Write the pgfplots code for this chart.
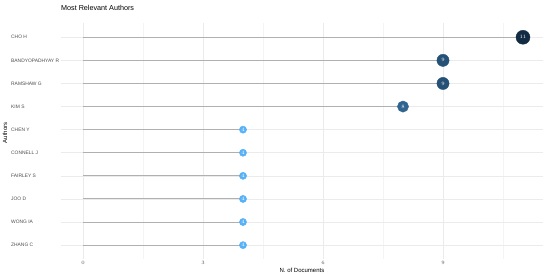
\documentclass[border=0pt]{standalone}
\usepackage{pgfplots}
\pgfplotsset{compat=1.18}
\usepackage{fontspec}
\setmainfont{Liberation Sans}
\definecolor{gridmaj}{HTML}{EBEBEB}
\definecolor{gridmin}{HTML}{F4F4F4}
\definecolor{seg}{HTML}{B0B0B0}
\definecolor{tick}{HTML}{4D4D4D}
\definecolor{c4}{HTML}{56B1F7}
\definecolor{c8}{HTML}{306490}
\definecolor{c9}{HTML}{265176}
\definecolor{c11}{HTML}{132B43}

\begin{document}
\begin{tikzpicture}[x=1pt,y=1pt]
\begin{axis}[
    at={(61pt,16pt)}, anchor=south west,
    scale only axis,
    width=482pt, height=235.6pt,
    xmin=-0.55, xmax=11.5,
    ymin=0.4, ymax=10.6,
    xtick={0,3,6,9},
    minor xtick={1.5,4.5,7.5,10.5},
    ytick={1,...,10},
    yticklabels={ZHANG C, WONG IA, JOO D, FAIRLEY S, CONNELL J, CHEN Y, KIM S, RAMSHAW G, BANDYOPADHYAY R, CHO H},
    axis line style={draw=none},
    major tick length=0pt, minor tick length=0pt,
    xmajorgrids, xminorgrids, ymajorgrids,
    major grid style={gridmaj, line width=0.5pt},
    minor grid style={gridmin, line width=0.4pt},
    ticklabel style={font=\fontsize{4.9}{5}\selectfont, text=tick, inner sep=0pt},
    xticklabel style={anchor=center, yshift=-4pt},
    yticklabel style={anchor=west, xshift=-50pt},
    xlabel={N. of Documents},
    ylabel={Authors},
    label style={font=\fontsize{6}{7}\selectfont},
    xlabel style={at={(axis description cs:0.5,0)}, anchor=center, yshift=-11.7pt},
    ylabel style={at={(axis description cs:-0.1162,0.535)}, anchor=center},
    clip=false,
    nodes near coords={\pgfmathprintnumber{\pgfplotspointmeta}},
    point meta=x,
    every node near coord/.append style={font=\fontsize{3.6}{4}\selectfont, text=white, anchor=center, inner sep=0pt},
]
% segments from zero
\addplot[xcomb, seg, line width=1pt, mark=none, nodes near coords={}] coordinates {
  (11,10) (9,9) (9,8) (8,7) (4,6) (4,5) (4,4) (4,3) (4,2) (4,1)};
% dots
\addplot[only marks, mark=*, mark size=3.6pt, mark options={fill=c4, draw=c4}] coordinates {
  (4,6) (4,5) (4,4) (4,3) (4,2) (4,1)};
\addplot[only marks, mark=*, mark size=5.6pt, mark options={fill=c8, draw=c8}] coordinates {(8,7)};
\addplot[only marks, mark=*, mark size=6.1pt, mark options={fill=c9, draw=c9}] coordinates {(9,9) (9,8)};
\addplot[only marks, mark=*, mark size=7pt, mark options={fill=c11, draw=c11}] coordinates {(11,10)};
\end{axis}
\node[anchor=west, inner sep=0pt, font=\fontsize{7.2}{8}\selectfont] at (61pt,267pt) {Most Relevant Authors};
\pgfresetboundingbox
\path[use as bounding box] (0,0) rectangle (550pt,275pt);
\end{tikzpicture}
\end{document}
